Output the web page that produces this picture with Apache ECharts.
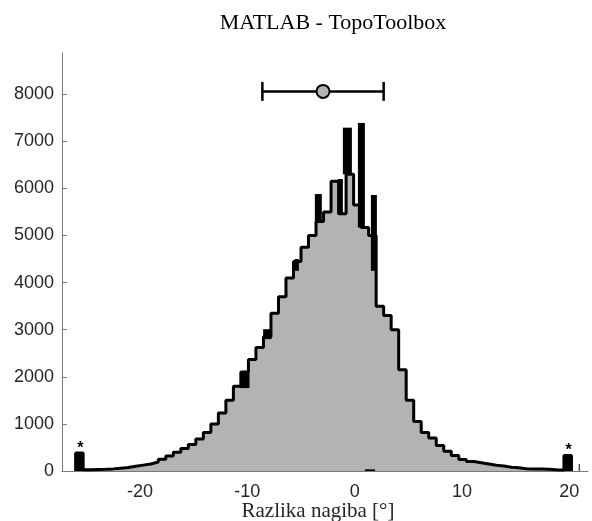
<!DOCTYPE html>
<html>
<head>
<meta charset="utf-8">
<script src="https://cdn.jsdelivr.net/npm/echarts@6/dist/echarts.min.js"></script>
<style>
html,body{margin:0;padding:0;background:#fff;}
#chart{width:592px;height:521px;}
</style>
</head>
<body>
<div id="chart"></div>
<script>
// Histogram: bins of width 0.7 starting at -26 (first and last bins are outlier bins)
const binStart = -26;
const binWidth = 0.7;
const counts = [
  380, 25, 30, 35, 45, 60, 75, 100, 125, 150,
  190, 250, 320, 400, 480, 560, 680, 820, 1000, 1230,
  1500, 1800, 2100, 2370, 2620, 2850, 3350, 3700, 4100, 4450,
  4750, 5000, 5300, 5500, 6150, 5460, 6300, 5650, 5170, 5000,
  3500, 3300, 3000, 2150, 1500, 1050, 820, 700, 540, 420,
  330, 245, 200, 175, 150, 120, 105, 80, 70, 50,
  45, 40, 35, 25, 20, 330
];
// Dark (black) overlay columns: [x0, x1, low, high]
const darkX0   = [-3.71, -1.57, -1.10, 0.30, 1.51, -10.7, -8.53, -5.6, 0.95, 20.88];
const darkX1   = [-3.06, -1.10, -0.26, 0.95, 2.07, -9.8, -7.75, -5.2, 1.90, 20.97];
const darkLow  = [5300, 5460, 6300, 5170, 4250, 1760, 2800, 4250, 0, 0];
const darkHigh = [5880, 6200, 7290, 7390, 5860, 2120, 3010, 4500, 35, 150];
// Outlier bins (marked with *)
const outlierIndex = [0, 65];
// Mean ± std error bar
const errMean = -2.95;
const errStd = 5.65;
const errLevel = 8060;
// Axis ticks
const xTicks = [-20, -10, 0, 10, 20];
const yTicks = [0, 1000, 2000, 3000, 4000, 5000, 6000, 7000, 8000];

// Build step-line points from bin edges
const stepData = [[binStart, 0]];
counts.forEach((c, k) => stepData.push([binStart + k * binWidth, c]));
stepData.push([binStart + counts.length * binWidth, 0]);

const darkData = darkX0.map((x0, i) => [x0, darkX1[i], darkLow[i], darkHigh[i]]);
const outlierData = outlierIndex.map(k => [binStart + k * binWidth, binStart + (k + 1) * binWidth, counts[k]]);

const axisColor = '#7a7a7a';
const labelColor = '#262626';

const chart = echarts.init(document.getElementById('chart'), null, {renderer: 'canvas'});
chart.setOption({
  animation: false,
  backgroundColor: '#fff',
  title: {
    text: 'MATLAB - TopoToolbox',
    left: 333, top: 12, padding: 0,
    textAlign: 'center',
    textStyle: {fontFamily: 'Liberation Serif', fontSize: 22, fontWeight: 'normal', color: '#000'}
  },
  grid: {left: 62, right: 4, top: 53, bottom: 50, containLabel: false, outerBoundsMode: 'none'},
  xAxis: {
    type: 'value', min: -27.27, max: 21.74,
    name: 'Razlika nagiba [°]',
    nameLocation: 'middle', nameGap: 30, nameMoveOverlap: false,
    nameTextStyle: {fontFamily: 'Liberation Serif', fontSize: 21, color: '#262626', padding: [0, 14, 0, 0]},
    axisLine: {show: true, onZero: false, lineStyle: {color: axisColor, width: 1}},
    axisTick: {show: true, inside: true, length: 5, lineStyle: {color: axisColor}, customValues: xTicks},
    axisLabel: {fontFamily: 'Liberation Sans', fontSize: 18, color: labelColor, margin: 12, customValues: xTicks},
    splitLine: {show: false}
  },
  yAxis: {
    type: 'value', min: 0, max: 8875,
    axisLine: {show: true, onZero: false, lineStyle: {color: axisColor, width: 1}},
    axisTick: {show: true, inside: true, length: 5, lineStyle: {color: axisColor}, customValues: yTicks},
    axisLabel: {fontFamily: 'Liberation Sans', fontSize: 18, color: labelColor, margin: 8, customValues: yTicks,
      formatter: v => String(v)},
    splitLine: {show: false}
  },
  series: [
    {
      type: 'line', step: 'end', data: stepData, symbol: 'none',
      lineStyle: {color: '#000', width: 3},
      areaStyle: {color: '#b3b3b3', opacity: 1},
      z: 2
    },
    {
      type: 'custom', data: darkData, z: 3,
      renderItem: (params, api) => {
        const p0 = api.coord([api.value(0), api.value(3)]);
        const p1 = api.coord([api.value(1), api.value(2)]);
        return {type: 'rect', shape: {x: p0[0], y: p0[1], width: p1[0] - p0[0], height: p1[1] - p0[1]}, style: {fill: '#000'}};
      }
    },
    {
      type: 'custom', data: outlierData, z: 4,
      renderItem: (params, api) => {
        const p0 = api.coord([api.value(0), api.value(2)]);
        const p1 = api.coord([api.value(1), 0]);
        return {type: 'group', children: [
          {type: 'rect', shape: {x: p0[0], y: p0[1], width: p1[0] - p0[0], height: p1[1] - p0[1]}, style: {fill: '#000'}},
          {type: 'text', style: {text: '*', x: (p0[0] + p1[0]) / 2 + 1, y: p0[1] - 13, align: 'center', verticalAlign: 'top', fontSize: 16, fontWeight: 'bold', fontFamily: 'Liberation Sans', fill: '#000'}}
        ]};
      }
    },
    {
      type: 'custom', data: [[errMean, errStd, errLevel]], z: 5,
      renderItem: (params, api) => {
        const m = api.value(0), s = api.value(1), yv = api.value(2);
        const l = api.coord([m - s, yv]), r = api.coord([m + s, yv]), c = api.coord([m, yv]);
        const st = {stroke: '#000', lineWidth: 2.5};
        return {type: 'group', children: [
          {type: 'line', shape: {x1: l[0], y1: l[1], x2: r[0], y2: r[1]}, style: st},
          {type: 'line', shape: {x1: l[0], y1: l[1] - 9.5, x2: l[0], y2: l[1] + 9.5}, style: st},
          {type: 'line', shape: {x1: r[0], y1: r[1] - 9.5, x2: r[0], y2: r[1] + 9.5}, style: st},
          {type: 'circle', shape: {cx: c[0], cy: c[1], r: 6.5}, style: {fill: '#b3b3b3', stroke: '#000', lineWidth: 2}}
        ]};
      }
    }
  ]
});
</script>
</body>
</html>
